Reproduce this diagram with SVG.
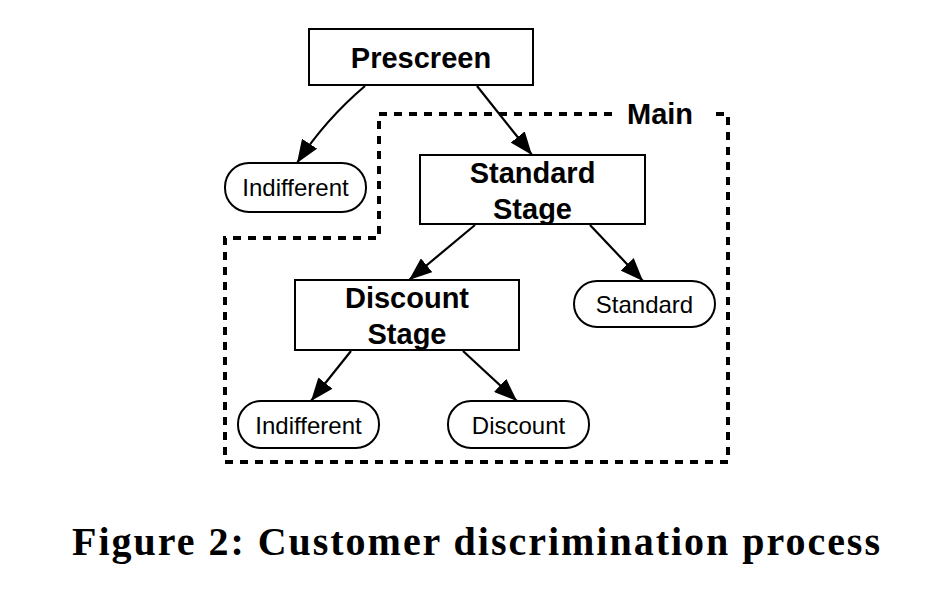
<svg xmlns="http://www.w3.org/2000/svg" width="936" height="590" viewBox="0 0 936 590">
<style>
.box{fill:#fff;stroke:#000;stroke-width:2}
.pill{fill:#fff;stroke:#000;stroke-width:2}
.b{font-family:"Liberation Sans",Arial,sans-serif;font-weight:bold;font-size:29px;text-anchor:middle;fill:#000}
.r{font-family:"Liberation Sans",Arial,sans-serif;font-size:24px;text-anchor:middle;fill:#000}
.edge{fill:none;stroke:#000;stroke-width:2.2;marker-end:url(#ah)}
.region{fill:none;stroke:#000;stroke-width:4;stroke-dasharray:8 7}
.cap{font-family:"Liberation Serif","Times New Roman",serif;font-weight:bold;font-size:40px;fill:#000}
</style>
<defs>
<marker id="ah" markerWidth="23" markerHeight="18" refX="23" refY="9" orient="auto" markerUnits="userSpaceOnUse">
<path d="M0,0 L23,9 L0,18 Z" fill="#000"/>
</marker>
</defs>
<rect width="936" height="590" fill="#fff"/>
<g id="main-region">
<path class="region" d="M612,114 L379,114 L379,238 L225,238 L225,462 L728,462 L728,114 L712,114"/>
<text class="b" x="660" y="124">Main</text>
</g>
<g id="connectors">
<path class="edge" d="M365,86 Q325,120 297,163"/>
<path class="edge" d="M477,86 L532,155"/>
<path class="edge" d="M475,225 L409,280"/>
<path class="edge" d="M590,225 L643,281"/>
<path class="edge" d="M351,351 L311,401"/>
<path class="edge" d="M463,351 L517,401"/>
</g>
<g id="prescreen">
<rect class="box" x="309" y="29" width="224" height="56"/>
<text class="b" x="421" y="68">Prescreen</text>
</g>
<g id="indifferent-top">
<rect class="pill" x="225" y="163" width="141" height="49" rx="24" ry="24"/>
<text class="r" x="295.5" y="196">Indifferent</text>
</g>
<g id="standard-stage">
<rect class="box" x="420" y="155" width="225" height="69"/>
<text class="b" x="532.5" y="183">Standard</text>
<text class="b" x="532.5" y="219">Stage</text>
</g>
<g id="discount-stage">
<rect class="box" x="295" y="280" width="224" height="70"/>
<text class="b" x="407" y="308">Discount</text>
<text class="b" x="407" y="344">Stage</text>
</g>
<g id="standard">
<rect class="pill" x="574" y="281" width="141" height="46" rx="23" ry="23"/>
<text class="r" x="644.5" y="313">Standard</text>
</g>
<g id="indifferent-bottom">
<rect class="pill" x="238" y="401" width="141" height="47" rx="23" ry="23"/>
<text class="r" x="308.5" y="434">Indifferent</text>
</g>
<g id="discount">
<rect class="pill" x="448" y="401" width="141" height="47" rx="23" ry="23"/>
<text class="r" x="518.5" y="434">Discount</text>
</g>
<text class="cap" x="72" y="555" textLength="808" lengthAdjust="spacing">Figure 2: Customer discrimination process</text>
</svg>
